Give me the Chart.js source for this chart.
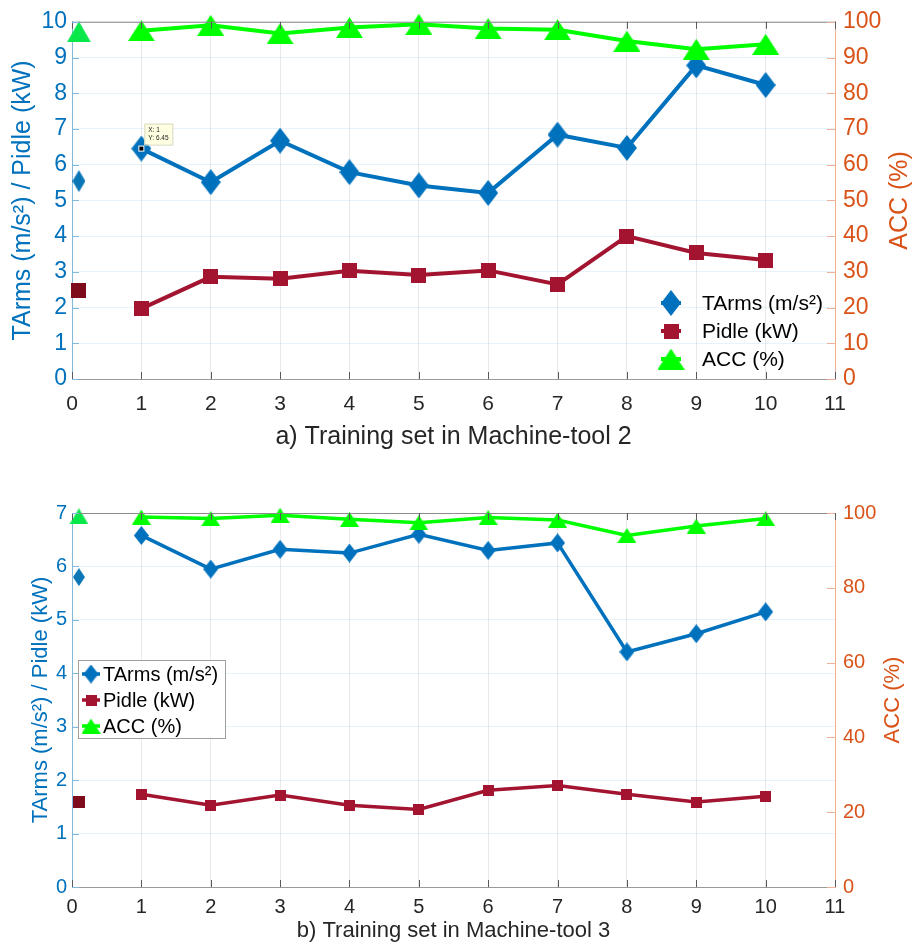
<!DOCTYPE html>
<html>
<head>
<meta charset="utf-8">
<script src="https://cdn.jsdelivr.net/npm/chart.js@4.4.1/dist/chart.umd.min.js"></script>
<style>
  html, body { margin: 0; padding: 0; background: #fff; }
  .wrap { position: absolute; left: 0; width: 915px; }
  #wrapA { top: 0; height: 460px; }
  #wrapB { top: 470px; height: 479px; }
</style>
</head>
<body>
<div id="wrapA" class="wrap"><canvas id="chartA"></canvas></div>
<div id="wrapB" class="wrap"><canvas id="chartB"></canvas></div>
<script>
// training sets on the x axis, the first (untrained) run sits alone at 0.1
const trainingSets = [1, 2, 3, 4, 5, 6, 7, 8, 9, 10];
const initialX = 0.1;

// a) Machine-tool 2
const tarmsA = [6.45, 5.51, 6.67, 5.79, 5.42, 5.21, 6.84, 6.47, 8.78, 8.23];
const pidleA = [1.97, 2.86, 2.81, 3.03, 2.91, 3.04, 2.65, 4.00, 3.53, 3.33];
const accA = [97.5, 99.0, 96.7, 98.4, 99.3, 98.1, 97.8, 94.6, 92.3, 93.7];
const initialA = [5.54, 2.49, 97.2]; // TArms, Pidle, ACC

// b) Machine-tool 3
const tarmsB = [6.58, 5.95, 6.32, 6.25, 6.60, 6.30, 6.44, 4.40, 4.74, 5.15];
const pidleB = [1.735, 1.53, 1.72, 1.53, 1.45, 1.81, 1.90, 1.735, 1.59, 1.70];
const accB = [98.9, 98.5, 99.4, 98.3, 97.4, 98.8, 98.1, 94.0, 96.5, 98.5];
const initialB = [5.80, 1.585, 99.1];

const seriesLabels = ["TArms (m/s²)", "Pidle (kW)", "ACC (%)"];

const FONT = '"Liberation Sans", Arial, Helvetica, sans-serif';
const BLUE = "#0072BD";
const RED = "#A2142F";
const GREEN = "#00FF00";
const ORANGE = "#D95319";
const TEXT = "#262626";

function marker(shape, w, h, color) {
    const c = document.createElement("canvas");
    c.width = w;
    c.height = h;
    const g = c.getContext("2d");
    g.fillStyle = color;
    g.beginPath();
    if (shape === "diamond") {
        g.moveTo(w / 2, 0); g.lineTo(w, h / 2); g.lineTo(w / 2, h); g.lineTo(0, h / 2);
    } else if (shape === "triangle") {
        g.moveTo(w / 2, 0); g.lineTo(w, h); g.lineTo(0, h);
    } else {
        g.rect(0, 0, w, h);
    }
    g.closePath();
    g.fill();
    return c;
}

function pts(xs, ys) {
    return xs.map((x, i) => ({ x: x, y: ys[i] }));
}

// MATLAB style bits: ticks pointing inward, top box line, right title, legend, datatip
const matlabBits = {
    id: "matlabBits",
    afterDraw(chart) {
        const s = chart.options.plugins.matlabBits;
        const { ctx, chartArea: a, scales } = chart;
        ctx.save();
        ctx.lineWidth = 1;

        // top box line
        ctx.strokeStyle = "#8c8c8c";
        ctx.beginPath();
        ctx.moveTo(a.left, a.top + 0.5);
        ctx.lineTo(a.right, a.top + 0.5);
        ctx.stroke();

        // inward ticks
        ctx.strokeStyle = "#5a5a5a";
        scales.x.ticks.forEach(t => {
            const px = Math.round(scales.x.getPixelForValue(t.value)) + 0.5;
            ctx.beginPath();
            ctx.moveTo(px, a.bottom); ctx.lineTo(px, a.bottom - 7);
            ctx.moveTo(px, a.top); ctx.lineTo(px, a.top + 7);
            ctx.stroke();
        });
        ctx.strokeStyle = "#80b8de";
        scales.y.ticks.forEach(t => {
            const py = Math.round(scales.y.getPixelForValue(t.value)) + 0.5;
            ctx.beginPath(); ctx.moveTo(a.left, py); ctx.lineTo(a.left + 7, py); ctx.stroke();
        });
        ctx.strokeStyle = "#f0b096";
        scales.y1.ticks.forEach(t => {
            const py = Math.round(scales.y1.getPixelForValue(t.value)) + 0.5;
            ctx.beginPath(); ctx.moveTo(a.right, py); ctx.lineTo(a.right - 8, py); ctx.stroke();
        });

        // right axis title, read bottom to top like the left one
        ctx.save();
        ctx.translate(s.rightTitleX, (a.top + a.bottom) / 2);
        ctx.rotate(-Math.PI / 2);
        ctx.fillStyle = ORANGE;
        ctx.font = s.rightTitleSize + "px " + FONT;
        ctx.textAlign = "center";
        ctx.textBaseline = "middle";
        ctx.fillText("ACC (%)", 0, 0);
        ctx.restore();

        // legend
        const lg = s.legend;
        if (lg.box) {
            ctx.fillStyle = "#fff";
            ctx.strokeStyle = "#a0a0a0";
            ctx.fillRect(lg.box[0], lg.box[1], lg.box[2], lg.box[3]);
            ctx.strokeRect(lg.box[0] + 0.5, lg.box[1] + 0.5, lg.box[2], lg.box[3]);
        }
        chart.data.datasets.slice(0, 3).forEach((ds, i) => {
            const y = lg.y + i * lg.row;
            ctx.strokeStyle = ds.borderColor;
            ctx.lineWidth = lg.lineWidth;
            ctx.beginPath();
            ctx.moveTo(lg.x - lg.stub, y); ctx.lineTo(lg.x + lg.stub, y);
            ctx.stroke();
            const img = ds.pointStyle;
            ctx.drawImage(img, lg.x - img.width / 2, y - img.height / 2);
            ctx.fillStyle = "#000";
            ctx.font = lg.size + "px " + FONT;
            ctx.textAlign = "left";
            ctx.textBaseline = "middle";
            ctx.fillText(ds.label, lg.textX, y + 1);
        });

        // datatip
        if (s.tip) {
            const px = scales.x.getPixelForValue(s.tip.x);
            const py = scales.y.getPixelForValue(s.tip.y);
            ctx.fillStyle = "#ffffe1";
            ctx.strokeStyle = "#d8d8c0";
            ctx.lineWidth = 1;
            ctx.fillRect(px + 3, py - 25, 28, 21);
            ctx.strokeRect(px + 3.5, py - 24.5, 28, 21);
            ctx.fillStyle = "#222";
            ctx.font = "6.5px " + FONT;
            ctx.textBaseline = "middle";
            ctx.fillText("X: " + s.tip.x, px + 7, py - 18);
            ctx.fillText("Y: " + s.tip.y, px + 7, py - 10);
            ctx.fillStyle = "#fff";
            ctx.fillRect(px - 3, py - 3, 6, 6);
            ctx.fillStyle = "#000";
            ctx.fillRect(px - 2, py - 2, 4, 4);
        }
        ctx.restore();
    }
};

function buildChart(id, s) {
    const common = {
        pointRadius: 8,
        pointHoverRadius: 8,
        borderWidth: s.lineWidth,
        tension: 0,
        clip: false
    };
    const datasets = [
        { ...common, label: seriesLabels[0], data: pts(trainingSets, s.tarms), yAxisID: "y",
          borderColor: BLUE, backgroundColor: BLUE, pointStyle: s.mk.tarms, order: 2 },
        { ...common, label: seriesLabels[1], data: pts(trainingSets, s.pidle), yAxisID: "y",
          borderColor: RED, backgroundColor: RED, pointStyle: s.mk.pidle, order: 3 },
        { ...common, label: seriesLabels[2], data: pts(trainingSets, s.acc), yAxisID: "y1",
          borderColor: GREEN, backgroundColor: GREEN, pointStyle: s.mk.acc, order: 1 },
        // initial run, plotted on its own
        { ...common, data: [{ x: initialX, y: s.initial[0] }], yAxisID: "y", showLine: false,
          pointStyle: s.mk.tarms0, order: 2 },
        { ...common, data: [{ x: initialX, y: s.initial[1] }], yAxisID: "y", showLine: false,
          pointStyle: s.mk.pidle0, order: 3 },
        { ...common, data: [{ x: initialX, y: s.initial[2] }], yAxisID: "y1", showLine: false,
          pointStyle: s.mk.acc0, order: 1 }
    ];

    return new Chart(document.getElementById(id), {
        type: "line",
        data: { datasets },
        options: {
            responsive: true,
            maintainAspectRatio: false,
            animation: false,
            devicePixelRatio: 1,
            events: [],
            layout: { padding: { top: s.top, left: 0, right: 0, bottom: 0 } },
            plugins: {
                legend: { display: false },
                tooltip: { enabled: false },
                matlabBits: {
                    rightTitleX: s.rightTitleX,
                    rightTitleSize: s.yTitleSize,
                    legend: s.legend,
                    tip: s.tip
                }
            },
            scales: {
                x: {
                    type: "linear",
                    min: 0,
                    max: 11,
                    afterFit: sc => { sc.height = s.xHeight; },
                    ticks: { stepSize: 1, color: TEXT, autoSkip: false, maxRotation: 0,
                             font: { family: FONT, size: s.xTickSize }, padding: s.xTickPad },
                    grid: { color: "rgba(38,38,38,0.1)", drawTicks: false },
                    border: { color: "#9a9a9a" },
                    title: { display: true, text: s.title, color: TEXT,
                             font: { family: FONT, size: s.titleSize },
                             padding: { top: 0, bottom: s.titlePad } }
                },
                y: {
                    position: "left",
                    min: 0,
                    max: s.yMax,
                    afterFit: sc => { sc.width = 72; },
                    ticks: { stepSize: 1, color: BLUE, autoSkip: false,
                             font: { family: FONT, size: s.yTickSize }, padding: 5 },
                    grid: { color: "rgba(0,114,189,0.09)", drawTicks: false },
                    border: { color: "#80b8de" },
                    title: { display: true, text: "TArms (m/s²) / Pidle (kW)", color: BLUE,
                             font: { family: FONT, size: s.yTitleSize },
                             padding: { top: s.yTitlePad, bottom: 0 } }
                },
                y1: {
                    position: "right",
                    min: 0,
                    max: 100,
                    afterFit: sc => { sc.width = 80; },
                    ticks: { stepSize: s.accStep, color: ORANGE, autoSkip: false,
                             font: { family: FONT, size: s.yTickSize }, padding: 8 },
                    grid: { display: false, drawTicks: false },
                    border: { color: "#f0b096" }
                }
            }
        },
        plugins: [matlabBits]
    });
}

buildChart("chartA", {
    tarms: tarmsA, pidle: pidleA, acc: accA, initial: initialA,
    mk: {
        tarms: marker("diamond", 20, 26, BLUE),
        pidle: marker("square", 15, 15, RED),
        acc: marker("triangle", 27, 21, GREEN),
        tarms0: marker("diamond", 13, 22, "#0a76b6"),
        pidle0: marker("square", 15, 15, "#7e0b1c"),
        acc0: marker("triangle", 24, 21, "#08e84a")
    },
    lineWidth: 4,
    top: 14,
    yMax: 10,
    accStep: 10,
    xHeight: 460 - 379,
    xTickSize: 21,
    xTickPad: 13,
    title: "a) Training set in Machine-tool 2",
    titleSize: 25,
    titlePad: 8,
    yTickSize: 23,
    yTitleSize: 25,
    yTitlePad: 8,
    rightTitleX: 900,
    legend: { x: 671, y: 303, row: 28, stub: 10, lineWidth: 4, textX: 702, size: 21 },
    tip: { x: 1, y: 6.45 }
});

buildChart("chartB", {
    tarms: tarmsB, pidle: pidleB, acc: accB, initial: initialB,
    mk: {
        tarms: marker("diamond", 15, 19, BLUE),
        pidle: marker("square", 11, 11, RED),
        acc: marker("triangle", 19, 15, GREEN),
        tarms0: marker("diamond", 12, 18, "#0a76b6"),
        pidle0: marker("square", 12, 12, "#7e0b1c"),
        acc0: marker("triangle", 19, 16, "#08e84a")
    },
    lineWidth: 3.5,
    top: 43,
    yMax: 7,
    accStep: 20,
    xHeight: 479 - 417,
    xTickSize: 20,
    xTickPad: 8,
    title: "b) Training set in Machine-tool 3",
    titleSize: 22,
    titlePad: 5,
    yTickSize: 20,
    yTitleSize: 22,
    yTitlePad: 28,
    rightTitleX: 893,
    legend: { box: [78, 190, 147, 78], x: 91, y: 204, row: 26, stub: 9, lineWidth: 3.5, textX: 103, size: 20 },
    tip: null
});
</script>
</body>
</html>
